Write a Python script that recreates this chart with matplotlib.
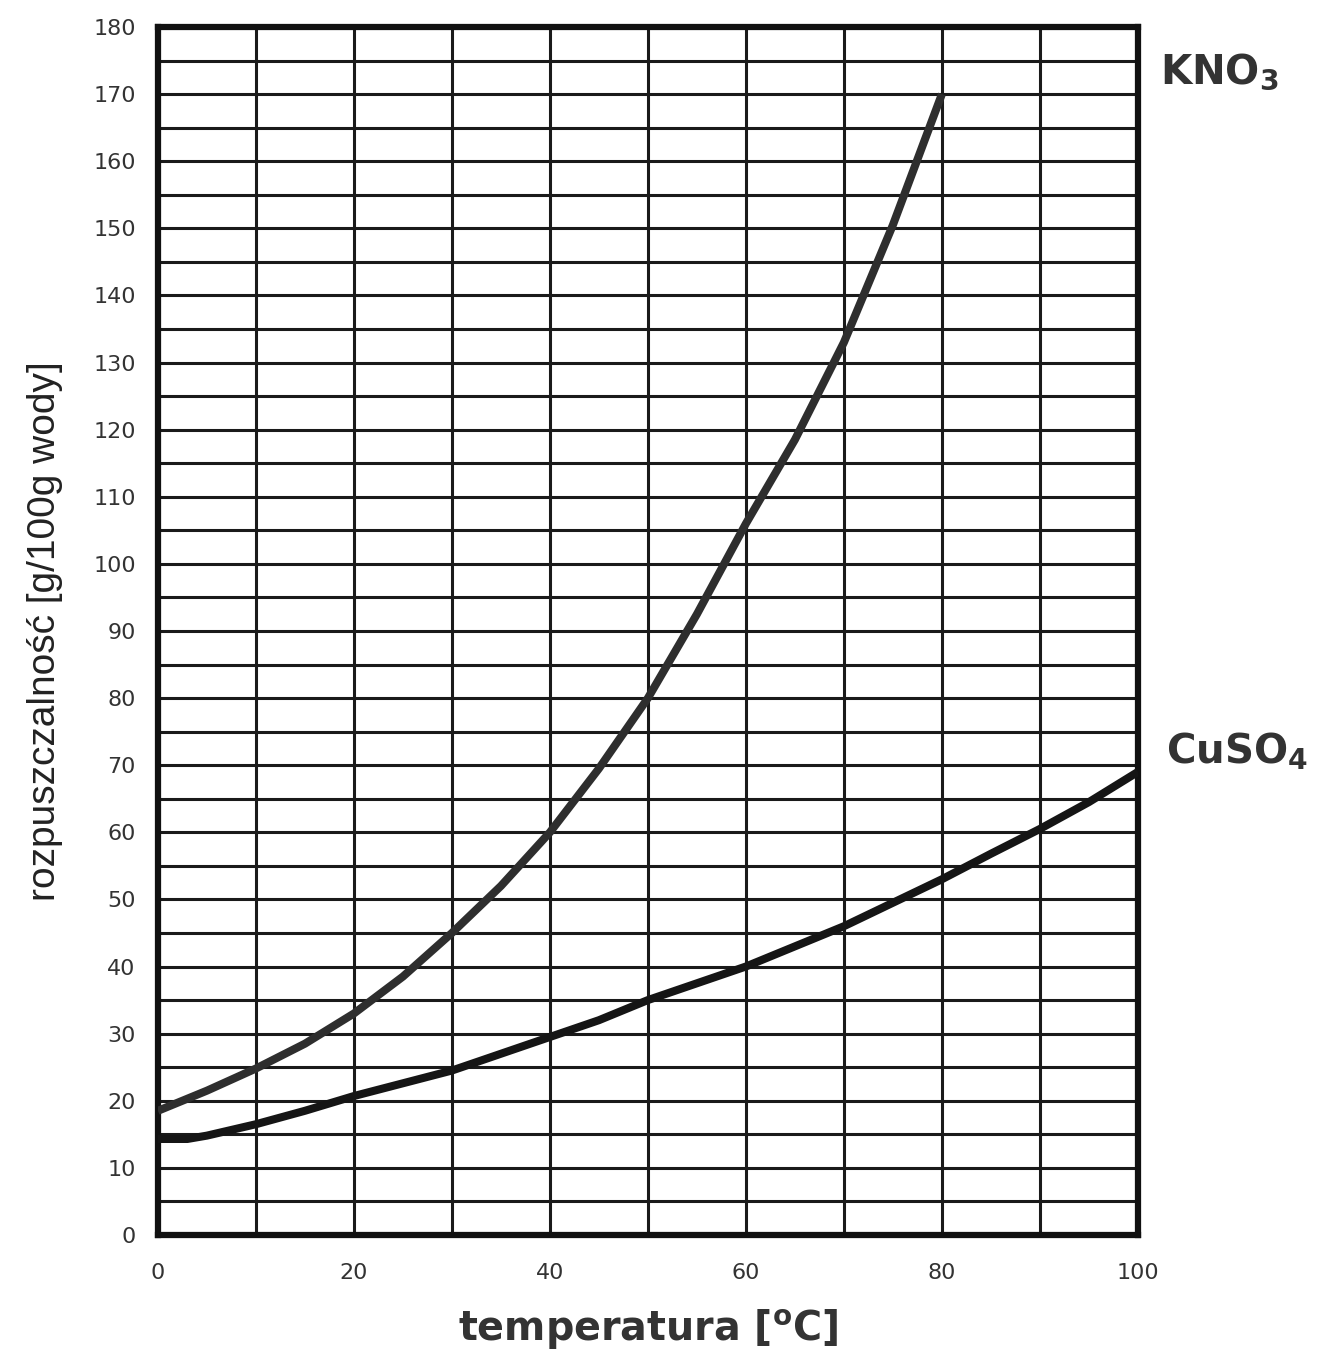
import matplotlib
matplotlib.use("Agg")
import matplotlib.pyplot as plt
import numpy as np

# solubility curves (g / 100 g water)
temp_kno3 = [0, 5, 10, 15, 20, 25, 30, 35, 40, 45, 50, 55, 60, 65, 70, 75, 80]
sol_kno3 = [18.5, 21.5, 24.8, 28.5, 33, 38.5, 45, 52, 60, 69.5, 80, 92.5, 106, 118.5, 133, 150.5, 170]

temp_cuso4 = [0, 3, 5, 10, 15, 20, 25, 30, 35, 40, 45, 50, 55, 60, 65, 70, 75, 80, 85, 90, 95, 100]
sol_cuso4 = [14.3, 14.3, 14.8, 16.5, 18.5, 20.7, 22.6, 24.5, 27, 29.5, 32, 35, 37.5, 40,
             43, 46, 49.5, 53, 56.8, 60.5, 64.5, 69]

x_ticks = [0, 20, 40, 60, 80, 100]
y_ticks = list(range(0, 181, 10))

plt.rcParams['mathtext.fontset'] = 'dejavusans'

fig = plt.figure(figsize=(13.34, 13.55), dpi=100)
ax = fig.add_axes([0.1184, 0.0886, 0.7346, 0.8915])

ax.plot(temp_kno3, sol_kno3, color='#2e2e2e', lw=5.8, solid_joinstyle='round',
        solid_capstyle='butt', zorder=3)
ax.plot(temp_cuso4, sol_cuso4, color='#151515', lw=5.8, solid_joinstyle='round',
        solid_capstyle='butt', zorder=3)

ax.set_xlim(0, 100)
ax.set_ylim(0, 180)
ax.set_xticks(x_ticks)
ax.set_xticks(np.arange(0, 101, 10), minor=True)
ax.set_yticks(y_ticks)
ax.set_yticks(np.arange(0, 181, 5), minor=True)
ax.grid(which='both', color='#1a1a1a', lw=2.2)
ax.set_axisbelow(True)

ax.tick_params(which='both', length=0)
ax.tick_params(axis='x', pad=20, labelsize=16, labelcolor='#333333')
ax.tick_params(axis='y', pad=16, labelsize=16, labelcolor='#333333')

for s in ax.spines.values():
    s.set_linewidth(4.5)
    s.set_color('#111111')

ax.set_xlabel(r'temperatura [$\mathregular{^o}$C]', family='DejaVu Sans', fontsize=28.5,
              fontweight='bold', color='#333333', labelpad=18)
ax.set_ylabel('rozpuszczalność [g/100g wody]', family='Liberation Sans',
              fontsize=28, color='#222222', labelpad=22)

ax.text(102.3, 173.3, r'$\mathbf{KNO_3}$', fontsize=29, color='#333333', va='center',
        ha='left', clip_on=False)
ax.text(102.9, 72, r'$\mathbf{CuSO_4}$', fontsize=29, color='#333333', va='center',
        ha='left', clip_on=False)

fig.savefig('out.png', dpi=100)
